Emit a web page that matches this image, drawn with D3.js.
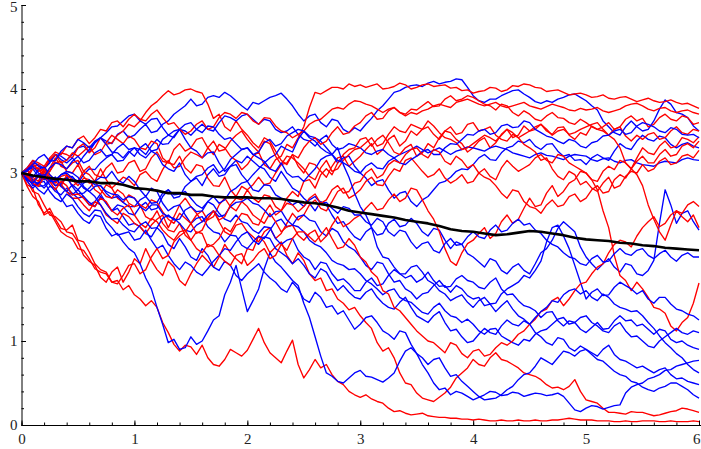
<!DOCTYPE html>
<html>
<head>
<meta charset="utf-8">
<script src="https://cdn.jsdelivr.net/npm/d3@7"></script>
<style>
  body { margin: 0; background: #fff; }
  svg { display: block; }
</style>
</head>
<body>
<svg id="chart" width="701" height="449"></svg>
<script>
// Sample paths over t = 0..6, equally spaced samples (0.05 apart for the paths)
const tMax = 6;

const red1 = [3.00,2.96,3.08,3.10,2.98,3.02,3.15,3.24,3.22,3.18,3.30,3.35,3.24,3.30,3.42,3.34,3.36,3.45,3.50,3.58,
  3.55,3.62,3.72,3.80,3.85,3.92,3.98,3.93,3.95,3.99,4.00,3.97,3.95,3.82,3.65,3.70,3.55,3.50,3.62,3.52,
  3.45,3.36,3.30,3.42,3.38,3.26,3.15,3.10,3.22,3.08,3.00,3.12,3.10,3.02,2.95,3.08,3.18,3.20,3.08,3.14,
  3.20,3.28,3.35,3.22,3.28,3.40,3.45,3.32,3.38,3.50,3.45,3.52,3.55,3.46,3.40,3.50,3.48,3.40,3.35,3.25,
  3.30,3.38,3.42,3.30,3.36,3.46,3.52,3.42,3.45,3.56,3.50,3.52,3.58,3.50,3.46,3.54,3.55,3.45,3.40,3.48,
  3.45,3.56,3.52,3.55,3.60,3.52,3.55,3.64,3.68,3.62,3.65,3.55,3.58,3.66,3.70,3.64,3.62,3.68,3.66,3.58,3.60];
const red2 = [3.00,3.04,2.92,2.86,3.05,2.95,2.88,2.96,2.98,2.84,2.90,3.02,3.08,2.98,2.95,3.06,3.12,3.00,3.02,3.12,
  3.15,3.02,3.05,3.18,3.25,3.14,3.12,3.28,3.35,3.26,3.30,3.40,3.42,3.30,3.22,3.34,3.30,3.20,3.15,3.04,
  3.10,3.20,3.25,3.10,3.05,3.16,3.20,3.34,3.30,3.42,3.55,3.78,3.96,3.94,3.98,4.02,4.02,4.00,4.06,4.03,
  4.05,4.02,4.04,4.06,4.00,4.01,4.03,4.07,4.05,4.00,4.02,4.05,4.06,4.03,4.04,4.05,4.01,4.02,3.98,3.99,
  3.95,3.97,3.98,4.02,4.01,3.97,3.99,4.04,4.03,4.06,4.05,4.02,4.01,3.97,3.98,3.99,3.96,3.93,3.94,3.95,
  3.93,3.90,3.91,3.93,3.89,3.88,3.90,3.91,3.88,3.85,3.87,3.89,3.86,3.84,3.85,3.87,3.84,3.82,3.83,3.80,3.77];
const red3 = [3.00,2.86,2.82,2.62,2.52,2.58,2.45,2.34,2.32,2.38,2.20,2.18,2.06,1.92,1.85,1.82,1.70,1.72,1.61,1.66,
  1.55,1.50,1.42,1.48,1.40,1.22,1.10,0.96,0.88,0.95,0.93,0.84,0.95,0.80,0.72,0.70,0.78,0.90,0.86,0.82,
  0.89,1.02,1.15,0.98,0.86,0.80,0.74,0.88,1.01,0.72,0.56,0.66,0.78,0.68,0.72,0.60,0.52,0.48,0.40,0.36,
  0.33,0.36,0.31,0.28,0.26,0.20,0.16,0.17,0.14,0.12,0.13,0.14,0.11,0.10,0.09,0.09,0.08,0.08,0.07,0.07,
  0.06,0.07,0.06,0.05,0.05,0.06,0.05,0.05,0.06,0.05,0.05,0.06,0.05,0.05,0.06,0.06,0.07,0.08,0.07,0.06,
  0.06,0.06,0.05,0.05,0.05,0.04,0.04,0.05,0.04,0.04,0.05,0.05,0.05,0.04,0.04,0.05,0.04,0.04,0.04,0.05,0.04];
const red4 = [3.00,2.92,2.78,2.75,2.62,2.50,2.48,2.42,2.30,2.28,2.18,2.02,1.95,1.90,1.76,1.70,1.82,1.88,1.70,1.82,
  1.98,1.92,2.10,1.96,1.85,1.78,1.95,1.88,1.72,1.66,1.80,1.92,2.02,1.95,1.88,2.00,2.15,2.05,1.98,1.92,
  2.10,2.08,2.25,2.18,2.05,2.12,2.18,2.02,1.92,2.05,1.96,1.80,1.72,1.75,1.60,1.62,1.50,1.45,1.37,1.40,
  1.30,1.22,1.15,0.98,0.88,0.92,0.80,0.62,0.50,0.48,0.38,0.32,0.30,0.28,0.33,0.38,0.45,0.56,0.62,0.68,
  0.78,0.72,0.70,0.80,0.86,0.78,0.76,0.72,0.68,0.62,0.60,0.58,0.54,0.48,0.44,0.45,0.42,0.46,0.54,0.40,
  0.30,0.28,0.26,0.20,0.15,0.15,0.14,0.13,0.16,0.15,0.15,0.13,0.11,0.12,0.14,0.16,0.17,0.20,0.19,0.17,0.15];
const red5 = [3.00,3.02,3.10,3.05,2.95,3.06,3.18,3.08,3.05,3.12,3.15,3.02,2.98,2.90,3.05,2.92,2.82,2.88,2.95,2.92,
  2.85,2.98,3.02,2.94,2.90,3.04,3.15,3.06,3.08,3.18,3.25,3.22,3.18,3.30,3.38,3.26,3.28,3.38,3.45,3.50,
  3.40,3.32,3.25,3.38,3.35,3.20,3.10,3.20,3.18,3.12,3.05,2.96,2.92,3.06,3.15,3.02,3.05,3.15,3.22,3.28,
  3.30,3.36,3.42,3.32,3.35,3.46,3.55,3.50,3.48,3.58,3.55,3.52,3.62,3.56,3.48,3.42,3.40,3.36,3.28,3.30,
  3.35,3.40,3.45,3.42,3.38,3.45,3.52,3.48,3.42,3.46,3.50,3.55,3.58,3.52,3.45,3.50,3.52,3.46,3.48,3.52,
  3.55,3.58,3.60,3.52,3.45,3.40,3.30,3.12,3.05,2.98,2.85,2.62,2.45,2.30,2.20,2.38,2.55,2.48,2.42,2.50,2.35];
const red6 = [3.00,2.98,2.90,2.96,3.02,2.92,2.85,2.86,2.78,2.70,2.70,2.62,2.55,2.66,2.62,2.50,2.45,2.40,2.52,2.48,
  2.40,2.36,2.28,2.38,2.45,2.50,2.35,2.48,2.62,2.70,2.60,2.52,2.42,2.46,2.55,2.42,2.30,2.26,2.38,2.40,
  2.30,2.24,2.18,2.30,2.35,2.22,2.28,2.40,2.52,2.44,2.50,2.62,2.68,2.58,2.55,2.66,2.78,2.82,2.70,2.74,
  2.80,2.90,2.95,2.86,2.85,2.96,3.05,3.02,3.15,3.18,3.10,3.02,2.95,2.98,3.05,2.94,2.88,2.92,2.98,2.88,
  2.90,3.00,3.05,2.96,2.92,3.06,3.15,3.08,3.02,3.06,3.10,3.18,3.22,3.15,3.12,3.22,3.20,3.12,3.08,3.04,
  3.00,2.92,2.80,2.55,2.35,2.02,1.78,1.72,1.60,1.70,1.62,1.52,1.40,1.38,1.33,1.18,1.12,1.22,1.28,1.45,1.69];
const red7 = [3.00,3.04,3.12,3.02,3.05,3.16,3.22,3.12,3.15,3.24,3.20,3.26,3.32,3.22,3.25,3.36,3.45,3.40,3.35,3.44,
  3.40,3.30,3.28,3.38,3.35,3.18,3.12,3.10,3.20,3.06,3.00,3.10,3.08,2.94,2.85,2.84,2.95,2.80,2.72,2.84,
  2.80,2.86,2.95,2.86,2.88,3.00,3.10,3.12,3.22,3.18,3.30,3.38,3.42,3.34,3.38,3.48,3.55,3.46,3.48,3.56,
  3.60,3.68,3.72,3.64,3.65,3.74,3.78,3.72,3.70,3.76,3.75,3.80,3.85,3.79,3.80,3.88,3.92,3.86,3.88,3.92,
  3.90,3.86,3.82,3.80,3.75,3.82,3.80,3.72,3.68,3.74,3.70,3.64,3.62,3.68,3.72,3.66,3.65,3.60,3.58,3.64,
  3.60,3.55,3.52,3.50,3.45,3.52,3.55,3.44,3.38,3.45,3.40,3.46,3.48,3.40,3.42,3.50,3.55,3.48,3.46,3.52,3.50];
const red8 = [3.00,3.04,2.95,2.90,3.05,2.98,2.90,2.84,2.98,2.92,2.85,2.94,2.92,2.80,2.75,2.86,2.82,2.70,2.65,2.74,
  2.70,2.62,2.58,2.68,2.65,2.54,2.45,2.40,2.52,2.46,2.40,2.50,2.55,2.44,2.48,2.62,2.70,2.60,2.55,2.66,
  2.60,2.50,2.45,2.40,2.52,2.42,2.30,2.36,2.38,2.26,2.20,2.28,2.32,2.18,2.25,2.38,2.48,2.36,2.40,2.46,
  2.50,2.58,2.65,2.56,2.58,2.68,2.75,2.66,2.70,2.82,2.80,2.68,2.55,2.45,2.30,2.10,1.95,1.90,2.05,2.16,
  2.20,2.28,2.35,2.22,2.28,2.42,2.50,2.40,2.45,2.58,2.70,2.60,2.62,2.76,2.85,2.72,2.78,2.88,2.92,3.02,
  3.00,2.92,2.90,3.02,3.08,3.04,3.15,3.12,3.05,3.18,3.30,3.24,3.22,3.32,3.38,3.30,3.32,3.42,3.40,3.36,3.43];
const red9 = [3.00,2.94,3.05,3.06,2.95,3.02,3.12,3.14,3.02,3.00,3.10,2.96,2.88,2.90,2.80,2.72,2.70,2.80,2.75,2.64,
  2.60,2.62,2.48,2.44,2.55,2.40,2.32,2.30,2.40,2.26,2.20,2.30,2.28,2.12,2.15,2.22,2.35,2.30,2.42,2.52,
  2.50,2.40,2.38,2.52,2.62,2.50,2.55,2.70,2.78,2.72,2.90,2.92,2.82,2.98,3.05,2.98,3.12,3.22,3.28,3.30,
  3.40,3.42,3.32,3.40,3.45,3.36,3.25,3.22,3.30,3.34,3.20,3.24,3.35,3.30,3.42,3.50,3.55,3.46,3.48,3.58,
  3.60,3.50,3.52,3.55,3.45,3.40,3.38,3.46,3.42,3.34,3.30,3.25,3.15,3.18,3.05,2.96,2.92,3.02,2.98,2.86,
  2.90,2.82,2.78,2.88,2.95,2.82,2.85,2.96,3.02,3.00,3.10,3.02,3.05,3.14,3.18,3.10,3.12,3.20,3.22,3.18,3.27];
const red10 = [3.00,3.06,3.15,3.12,3.08,3.18,3.25,3.22,3.32,3.30,3.40,3.44,3.35,3.42,3.52,3.50,3.60,3.62,3.55,3.64,
  3.70,3.64,3.62,3.70,3.75,3.66,3.58,3.60,3.52,3.46,3.50,3.58,3.62,3.52,3.55,3.66,3.72,3.70,3.65,3.72,
  3.70,3.62,3.58,3.66,3.65,3.56,3.50,3.48,3.42,3.46,3.50,3.58,3.62,3.64,3.70,3.76,3.78,3.76,3.82,3.86,
  3.85,3.82,3.80,3.76,3.72,3.76,3.78,3.72,3.68,3.72,3.70,3.74,3.76,3.80,3.82,3.80,3.78,3.84,3.86,3.88,
  3.85,3.82,3.80,3.82,3.84,3.80,3.78,3.80,3.82,3.84,3.80,3.78,3.76,3.79,3.82,3.80,3.78,3.75,3.74,3.77,
  3.75,3.76,3.78,3.74,3.72,3.74,3.76,3.80,3.82,3.83,3.80,3.76,3.74,3.77,3.78,3.74,3.72,3.74,3.75,3.72,3.70];
const red11 = [3.00,2.96,2.88,2.84,2.95,2.90,2.80,2.90,2.85,2.74,2.75,2.70,2.62,2.60,2.70,2.66,2.55,2.50,2.58,2.62,
  2.50,2.40,2.35,2.46,2.42,2.32,2.25,2.20,2.30,2.32,2.20,2.10,2.05,2.15,2.12,2.02,1.95,1.90,2.02,2.04,
  1.90,1.96,2.05,2.10,1.98,2.02,2.15,2.08,2.22,2.30,2.30,2.24,2.18,2.26,2.35,2.22,2.10,2.12,2.22,2.14,
  2.00,1.94,1.82,1.76,1.60,1.56,1.40,1.36,1.28,1.20,1.12,1.06,1.00,0.98,0.92,0.86,0.98,0.95,0.85,0.80,
  0.88,0.90,0.82,0.84,0.92,0.98,0.95,1.00,1.08,1.12,1.20,1.26,1.35,1.38,1.48,1.52,1.42,1.50,1.60,1.68,
  1.70,1.80,1.88,1.92,2.05,2.15,2.20,2.18,2.12,2.25,2.35,2.42,2.48,2.36,2.40,2.50,2.55,2.52,2.62,2.66,2.60];
const red12 = [3.00,2.84,2.72,2.66,2.50,2.54,2.42,2.30,2.25,2.22,2.10,2.08,1.98,1.86,1.82,1.80,1.70,1.68,1.78,1.90,
  1.92,1.80,1.85,2.00,2.10,1.98,2.02,2.18,2.25,2.30,2.40,2.28,2.32,2.46,2.55,2.44,2.48,2.62,2.70,2.68,
  2.80,2.70,2.65,2.74,2.72,2.60,2.55,2.64,2.62,2.54,2.60,2.70,2.75,2.64,2.68,2.80,2.85,2.76,2.78,2.88,
  2.90,3.00,3.05,2.94,2.98,3.10,3.15,3.12,3.22,3.28,3.30,3.22,3.18,3.28,3.25,3.14,3.10,3.20,3.15,3.06,
  3.10,3.00,2.95,2.92,2.85,2.76,2.70,2.80,2.78,2.66,2.60,2.58,2.52,2.62,2.68,2.60,2.62,2.72,2.75,2.66,
  2.70,2.80,2.85,2.76,2.78,2.92,2.98,2.94,3.05,3.14,3.20,3.12,3.12,3.22,3.28,3.20,3.22,3.32,3.35,3.30,3.38];

const blue1 = [3.00,3.04,3.12,3.10,3.05,3.14,3.22,3.20,3.15,3.22,3.30,3.32,3.25,3.36,3.42,3.38,3.35,3.46,3.50,3.42,
  3.45,3.52,3.58,3.48,3.50,3.58,3.62,3.70,3.75,3.80,3.88,3.80,3.82,3.90,3.92,3.90,3.96,3.92,3.86,3.80,
  3.75,3.84,3.82,3.86,3.90,3.92,3.95,3.88,3.80,3.70,3.62,3.68,3.70,3.60,3.55,3.64,3.62,3.52,3.48,3.54,
  3.50,3.58,3.65,3.74,3.80,3.88,3.96,3.98,4.02,4.04,4.05,4.03,4.07,4.09,4.06,4.08,4.09,4.12,4.11,4.02,
  3.92,3.86,3.84,3.88,3.88,3.92,3.95,3.98,3.99,3.94,3.90,3.85,3.83,3.86,3.84,3.88,3.90,3.93,3.94,3.90,
  3.86,3.80,3.75,3.62,3.55,3.48,3.45,3.55,3.62,3.55,3.50,3.52,3.62,3.76,3.87,3.82,3.72,3.70,3.66,3.56,3.50];
const blue2 = [3.00,2.94,2.90,2.98,3.02,2.92,2.85,2.88,2.95,2.96,2.88,2.98,3.05,3.04,3.12,3.18,3.22,3.14,3.15,3.24,
  3.30,3.28,3.22,3.32,3.40,3.34,3.35,3.44,3.52,3.50,3.45,3.52,3.58,3.52,3.50,3.60,3.68,3.66,3.62,3.68,
  3.70,3.64,3.58,3.64,3.62,3.52,3.48,3.50,3.55,3.46,3.40,3.38,3.32,3.40,3.45,3.34,3.28,3.30,3.35,3.33,
  3.30,3.24,3.22,3.26,3.28,3.22,3.18,3.22,3.25,3.28,3.32,3.28,3.24,3.27,3.30,3.26,3.22,3.26,3.28,3.31,
  3.30,3.28,3.26,3.30,3.32,3.30,3.28,3.24,3.22,3.20,3.18,3.22,3.24,3.21,3.20,3.18,3.16,3.20,3.22,3.21,
  3.20,3.16,3.14,3.17,3.18,3.14,3.12,3.15,3.16,3.12,3.10,3.09,3.08,3.12,3.14,3.13,3.12,3.16,3.18,3.16,3.15];
const blue3 = [3.00,3.06,3.15,3.08,3.05,3.12,3.22,3.16,3.12,3.18,3.10,3.20,3.28,3.36,3.42,3.48,3.55,3.56,3.62,3.68,
  3.70,3.62,3.58,3.64,3.65,3.54,3.45,3.50,3.52,3.40,3.30,3.26,3.18,3.24,3.25,3.12,3.02,3.08,3.10,2.98,
  2.90,2.98,3.05,3.12,3.18,3.22,3.32,3.28,3.25,3.40,3.50,3.44,3.42,3.38,3.30,3.22,3.12,3.18,3.20,3.08,
  3.00,2.94,2.85,2.90,2.92,2.80,2.70,2.76,2.78,2.66,2.60,2.68,2.72,2.80,2.88,2.90,2.95,3.02,3.05,3.04,
  3.10,3.18,3.22,3.16,3.15,3.24,3.30,3.32,3.38,3.36,3.40,3.32,3.28,3.34,3.35,3.26,3.20,3.22,3.15,3.16,
  3.10,3.18,3.22,3.18,3.15,3.26,3.35,3.30,3.28,3.38,3.45,3.40,3.38,3.44,3.42,3.34,3.30,3.34,3.36,3.32,3.30];
const blue4 = [3.00,2.96,2.85,2.88,2.95,2.86,2.78,2.74,2.82,2.76,2.70,2.72,2.62,2.66,2.75,2.64,2.55,2.62,2.60,2.52,
  2.50,2.60,2.65,2.56,2.58,2.72,2.80,2.70,2.72,2.84,2.90,2.94,2.85,2.98,3.05,2.96,2.98,3.08,3.15,3.12,
  3.20,3.14,3.08,3.05,2.95,2.90,3.02,2.92,2.82,2.78,2.70,2.64,2.55,2.66,2.62,2.50,2.40,2.42,2.32,2.24,
  2.20,2.30,2.35,2.26,2.28,2.40,2.45,2.36,2.38,2.46,2.40,2.30,2.25,2.34,2.32,2.20,2.10,2.18,2.15,2.04,
  2.00,1.94,1.88,1.98,1.95,1.84,1.80,1.88,1.92,1.84,1.80,1.92,2.05,2.10,2.20,2.34,2.42,2.36,2.30,2.12,
  2.00,1.92,1.85,1.92,1.98,1.88,1.82,1.92,1.90,1.80,1.78,1.84,1.96,2.40,2.80,2.62,2.40,2.52,2.55,2.42,2.32];
const blue5 = [3.00,2.92,2.88,2.80,2.75,2.84,2.82,2.70,2.60,2.62,2.52,2.44,2.40,2.50,2.48,2.34,2.25,2.28,2.18,2.10,
  2.05,1.92,1.75,1.62,1.40,1.20,0.98,1.02,0.90,0.92,1.05,0.96,1.00,1.12,1.25,1.30,1.55,1.70,1.90,1.62,
  1.35,1.48,1.62,1.86,2.05,1.94,1.88,1.80,1.72,1.66,1.45,1.28,1.05,0.82,0.62,0.58,0.52,0.50,0.56,0.62,
  0.65,0.58,0.57,0.54,0.51,0.56,0.62,0.76,0.88,0.92,0.85,0.72,0.62,0.50,0.42,0.44,0.36,0.40,0.38,0.34,
  0.30,0.33,0.36,0.40,0.39,0.35,0.36,0.39,0.38,0.34,0.36,0.38,0.37,0.35,0.36,0.38,0.34,0.26,0.18,0.16,
  0.20,0.23,0.22,0.19,0.21,0.23,0.24,0.38,0.45,0.48,0.50,0.55,0.57,0.60,0.65,0.66,0.70,0.72,0.74,0.76,0.77];
const blue6 = [3.00,2.98,2.92,2.84,2.85,2.92,2.95,2.86,2.78,2.74,2.80,2.72,2.65,2.60,2.72,2.64,2.55,2.58,2.48,2.38,
  2.40,2.36,2.28,2.24,2.35,2.28,2.15,2.10,2.22,2.12,2.00,1.96,2.10,2.02,1.88,1.84,1.95,1.90,1.78,1.72,
  1.80,1.86,1.92,1.82,1.75,1.70,1.62,1.58,1.70,1.62,1.50,1.46,1.58,1.52,1.40,1.42,1.32,1.36,1.25,1.14,
  1.20,1.28,1.30,1.22,1.12,1.08,1.02,1.12,1.10,0.96,0.85,0.80,0.72,0.78,0.80,0.68,0.58,0.60,0.52,0.46,
  0.40,0.34,0.30,0.31,0.32,0.36,0.42,0.46,0.54,0.60,0.62,0.70,0.80,0.76,0.72,0.80,0.88,0.86,0.82,0.88,
  0.90,0.84,0.78,0.76,0.70,0.64,0.60,0.58,0.52,0.50,0.45,0.42,0.40,0.44,0.46,0.50,0.50,0.46,0.42,0.36,0.32];
const blue7 = [3.00,2.90,2.82,2.88,2.90,2.78,2.70,2.66,2.75,2.70,2.60,2.52,2.48,2.56,2.55,2.42,2.35,2.26,2.28,2.30,
  2.20,2.22,2.32,2.20,2.10,2.14,2.02,1.92,1.85,1.94,1.90,1.82,1.78,1.86,1.95,2.02,2.10,2.08,2.18,2.26,
  2.30,2.20,2.15,2.24,2.22,2.10,2.05,2.00,1.92,1.98,1.90,1.80,1.75,1.86,1.82,1.70,1.60,1.66,1.58,1.52,
  1.50,1.58,1.62,1.52,1.45,1.40,1.38,1.46,1.52,1.40,1.30,1.26,1.22,1.30,1.35,1.22,1.12,1.14,1.05,0.98,
  1.00,1.08,1.15,1.10,1.08,1.18,1.25,1.20,1.18,1.24,1.20,1.10,1.05,0.98,0.95,1.04,1.02,0.92,0.88,0.94,
  0.90,0.86,0.82,0.90,0.95,0.84,0.78,0.76,0.72,0.68,0.70,0.66,0.62,0.66,0.68,0.60,0.55,0.56,0.52,0.50,0.48];
const blue8 = [3.00,3.06,3.05,2.96,2.92,2.94,2.85,2.86,2.95,2.84,2.75,2.76,2.82,2.90,2.95,2.94,3.02,2.92,2.88,2.96,
  2.90,2.80,2.72,2.82,2.78,2.64,2.55,2.60,2.62,2.50,2.40,2.46,2.48,2.36,2.30,2.28,2.18,2.26,2.25,2.14,
  2.10,2.18,2.25,2.22,2.32,2.42,2.45,2.36,2.38,2.48,2.50,2.44,2.42,2.30,2.25,2.34,2.30,2.18,2.12,2.08,
  2.00,1.90,1.85,1.94,1.92,1.80,1.70,1.72,1.62,1.58,1.50,1.56,1.58,1.66,1.72,1.64,1.65,1.74,1.78,1.72,
  1.70,1.64,1.62,1.70,1.75,1.62,1.55,1.56,1.48,1.42,1.40,1.36,1.28,1.34,1.35,1.24,1.18,1.24,1.22,1.14,
  1.10,1.16,1.22,1.14,1.15,1.24,1.30,1.24,1.25,1.18,1.20,1.14,1.08,1.14,1.12,1.02,0.98,1.00,0.95,0.92,0.90];
const blue9 = [3.00,2.98,2.95,3.04,3.08,2.98,2.92,2.98,3.00,2.94,2.90,2.82,2.78,2.84,2.85,2.76,2.70,2.72,2.65,2.60,
  2.60,2.68,2.72,2.64,2.65,2.76,2.80,2.74,2.75,2.78,2.70,2.62,2.58,2.66,2.62,2.52,2.45,2.42,2.50,2.42,
  2.40,2.32,2.28,2.36,2.35,2.22,2.15,2.20,2.22,2.08,2.00,1.96,1.85,1.94,1.92,1.80,1.72,1.74,1.68,1.60,
  1.60,1.70,1.75,1.66,1.68,1.78,1.85,1.80,1.80,1.88,1.90,1.82,1.72,1.68,1.60,1.56,1.48,1.52,1.55,1.46,
  1.40,1.48,1.52,1.44,1.45,1.56,1.62,1.66,1.70,1.78,1.75,1.84,1.95,2.18,2.35,2.38,2.25,2.10,1.90,1.70,
  1.50,1.58,1.62,1.54,1.55,1.64,1.70,1.66,1.62,1.56,1.60,1.50,1.45,1.52,1.52,1.44,1.38,1.36,1.32,1.30,1.25];
const blue10 = [3.00,2.94,2.90,2.88,2.82,2.90,2.95,2.84,2.78,2.86,2.80,2.88,2.92,2.86,2.85,2.78,2.75,2.74,2.68,2.72,
  2.70,2.60,2.55,2.62,2.62,2.52,2.48,2.46,2.40,2.32,2.30,2.38,2.42,2.50,2.55,2.48,2.50,2.60,2.65,2.66,
  2.70,2.64,2.62,2.56,2.48,2.54,2.55,2.44,2.38,2.36,2.30,2.20,2.15,2.12,2.05,1.96,1.92,1.90,1.85,1.86,
  1.80,1.72,1.68,1.62,1.55,1.60,1.62,1.52,1.48,1.46,1.40,1.34,1.32,1.40,1.45,1.36,1.30,1.28,1.22,1.26,
  1.20,1.12,1.08,1.14,1.15,1.06,1.02,0.98,0.95,1.02,1.00,1.08,1.12,1.14,1.20,1.26,1.28,1.20,1.22,1.28,
  1.30,1.22,1.18,1.12,1.10,1.18,1.22,1.12,1.05,1.06,1.00,0.94,0.92,1.00,1.05,1.10,1.15,1.10,1.08,1.12,1.10];
const blue11 = [3.00,3.02,3.08,3.00,2.95,3.06,3.12,3.10,3.05,3.14,3.20,3.12,3.15,3.24,3.28,3.20,3.22,3.30,3.35,3.28,
  3.30,3.22,3.18,3.26,3.22,3.10,3.05,3.02,3.12,2.98,2.90,2.96,2.98,3.06,3.10,3.00,3.05,3.16,3.22,3.28,
  3.30,3.22,3.25,3.36,3.40,3.32,3.35,3.44,3.48,3.52,3.50,3.42,3.38,3.30,3.25,3.22,3.15,3.12,3.08,3.02,
  3.00,3.08,3.12,3.06,3.05,3.14,3.18,3.12,3.10,3.16,3.20,3.26,3.28,3.22,3.22,3.30,3.35,3.34,3.40,3.46,
  3.45,3.50,3.52,3.46,3.48,3.56,3.58,3.54,3.55,3.62,3.60,3.52,3.48,3.44,3.42,3.38,3.35,3.40,3.38,3.32,
  3.30,3.36,3.38,3.44,3.45,3.50,3.52,3.46,3.48,3.56,3.60,3.58,3.55,3.50,3.48,3.54,3.52,3.46,3.45,3.46,3.42];
const blue12 = [3.00,2.92,2.88,2.96,2.98,2.90,2.90,2.98,3.02,3.00,2.95,2.84,2.78,2.72,2.62,2.52,2.45,2.46,2.38,2.32,
  2.30,2.38,2.42,2.34,2.35,2.46,2.50,2.44,2.45,2.56,2.60,2.54,2.55,2.66,2.72,2.64,2.68,2.78,2.82,2.88,
  2.90,2.80,2.78,2.86,2.85,2.74,2.70,2.68,2.62,2.66,2.60,2.68,2.72,2.64,2.65,2.58,2.52,2.60,2.58,2.50,
  2.50,2.42,2.38,2.46,2.42,2.30,2.25,2.32,2.30,2.18,2.10,2.16,2.18,2.08,2.05,2.16,2.22,2.14,2.15,2.24,
  2.30,2.24,2.22,2.32,2.38,2.30,2.32,2.40,2.45,2.38,2.40,2.32,2.28,2.20,2.15,2.12,2.05,2.00,1.98,1.92,
  1.90,1.98,2.02,1.94,1.95,2.04,2.10,2.04,2.02,2.08,2.10,2.02,1.98,2.04,2.08,2.00,1.95,2.02,2.05,2.00,2.00];
const blue13 = [3.00,3.04,3.10,3.18,3.22,3.14,3.15,3.26,3.32,3.30,3.40,3.36,3.30,3.38,3.42,3.34,3.25,3.24,3.18,3.26,
  3.20,3.30,3.35,3.26,3.28,3.40,3.45,3.42,3.52,3.58,3.60,3.52,3.48,3.56,3.55,3.46,3.40,3.42,3.35,3.28,
  3.30,3.22,3.18,3.14,3.05,3.02,3.12,3.00,2.95,2.96,2.90,2.98,3.05,3.16,3.20,3.22,3.30,3.10,2.95,2.76,
  2.60,2.50,2.35,2.12,2.00,1.98,1.88,1.80,1.75,1.78,1.70,1.74,1.82,1.72,1.65,1.66,1.58,1.66,1.62,1.54,
  1.50,1.52,1.42,1.44,1.35,1.42,1.48,1.38,1.30,1.26,1.20,1.28,1.35,1.40,1.48,1.46,1.55,1.60,1.62,1.56,
  1.60,1.52,1.48,1.56,1.52,1.44,1.40,1.38,1.35,1.36,1.30,1.22,1.15,1.06,0.98,0.92,0.85,0.80,0.72,0.66,0.62];

// Average over all paths, one value every 0.1
const meanPath = [3.00,2.97,2.95,2.93,2.92,2.90,2.90,2.88,2.88,2.86,
  2.82,2.81,2.79,2.76,2.76,2.74,2.74,2.72,2.71,2.71,
  2.71,2.70,2.70,2.69,2.67,2.65,2.64,2.62,2.59,2.55,
  2.53,2.51,2.49,2.47,2.44,2.42,2.40,2.37,2.33,2.31,
  2.30,2.28,2.26,2.27,2.29,2.31,2.30,2.28,2.26,2.23,
  2.21,2.20,2.19,2.17,2.16,2.14,2.13,2.11,2.10,2.09,2.08];

const redPaths = [red1, red2, red3, red4, red5, red6, red7, red8, red9, red10, red11, red12];
const bluePaths = [blue1, blue2, blue3, blue4, blue5, blue6, blue7, blue8, blue9, blue10, blue11, blue12, blue13];

const xTicks = [0, 1, 2, 3, 4, 5, 6];
const xMinorTicks = d3.range(0, 6.001, 0.2);
const yTicks = [0, 1, 2, 3, 4, 5];
const yMinorTicks = d3.range(0, 5.001, 0.2);

const svg = d3.select("#chart");
const x = d3.scaleLinear().domain([0, tMax]).range([21.5, 699]);
const y = d3.scaleLinear().domain([0, 5]).range([425, 5]);

// Samples are evenly spaced over [0, tMax]
const line = d3.line()
  .x((d, i, arr) => x(i * tMax / (arr.length - 1)))
  .y(d => y(d));

// Interleave the two groups so neither colour sits entirely on top
const paths = svg.append("g").attr("fill", "none").attr("stroke-linejoin", "round");
const n = Math.max(redPaths.length, bluePaths.length);
for (let i = 0; i < n; i++) {
  if (bluePaths[i]) paths.append("path").attr("d", line(bluePaths[i])).attr("stroke", "#0000ff").attr("stroke-width", 1.35);
  if (redPaths[i]) paths.append("path").attr("d", line(redPaths[i])).attr("stroke", "#ff0000").attr("stroke-width", 1.35);
}
paths.append("path").attr("d", line(meanPath)).attr("stroke", "#000").attr("stroke-width", 2.6);

// Axes with inward ticks
const labelFont = "Liberation Serif";

const xMinor = svg.append("g").attr("transform", "translate(0,425)")
  .call(d3.axisBottom(x).tickValues(xMinorTicks).tickSize(-2.5).tickSizeOuter(0).tickFormat(""));
xMinor.select(".domain").remove();
const xAxis = svg.append("g").attr("transform", "translate(0,425)")
  .call(d3.axisBottom(x).tickValues(xTicks).tickSize(-4.5).tickSizeOuter(0).tickPadding(8).tickFormat(d3.format("d")));
xAxis.select(".domain").attr("d", `M${x(0)},0.5H701`);
// keep the last label inside the frame
xAxis.selectAll(".tick text").filter(d => d === 6).attr("text-anchor", "end").attr("dx", 1);

const yMinor = svg.append("g").attr("transform", "translate(21.5,0)")
  .call(d3.axisLeft(y).tickValues(yMinorTicks).tickSize(-2.5).tickSizeOuter(0).tickFormat(""));
yMinor.select(".domain").remove();
const yAxis = svg.append("g").attr("transform", "translate(21.5,0)")
  .call(d3.axisLeft(y).tickValues(yTicks).tickSize(-4.5).tickSizeOuter(0).tickPadding(4).tickFormat(d3.format("d")));
yAxis.selectAll(".tick text").filter(d => d === 5).attr("dy", "0.45em");

[xAxis, yAxis].forEach(g => g.attr("font-family", labelFont).attr("font-size", 15)
  .selectAll("text").attr("fill", "#222"));
svg.selectAll(".domain, .tick line").attr("stroke", "#000");
</script>
</body>
</html>
